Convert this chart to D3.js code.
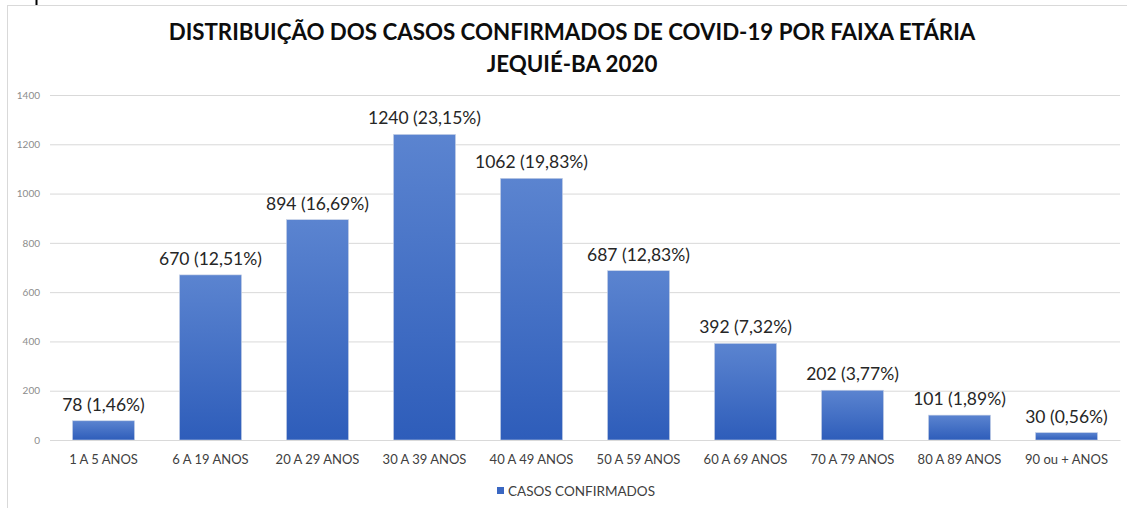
<!DOCTYPE html>
<html>
<head>
    <meta charset="utf-8">
    <script src="https://d3js.org/d3.v7.min.js"></script>
    <style>
        body { margin: 0; background: #fff; overflow: hidden; }
        svg text { font-family: Lato, "Open Sans", sans-serif; }
    </style>
</head>
<body>
    <div id="chart"></div>
    <script>
        var categories = ["1 A 5 ANOS", "6 A 19 ANOS", "20 A 29 ANOS", "30 A 39 ANOS", "40 A 49 ANOS",
            "50 A 59 ANOS", "60 A 69 ANOS", "70 A 79 ANOS", "80 A 89 ANOS", "90 ou + ANOS"];
        var cases = [78, 670, 894, 1240, 1062, 687, 392, 202, 101, 30];
        var percents = ["1,46%", "12,51%", "16,69%", "23,15%", "19,83%", "12,83%", "7,32%", "3,77%", "1,89%", "0,56%"];
        var yTicks = [0, 200, 400, 600, 800, 1000, 1200, 1400];
        var titleLines = ["DISTRIBUIÇÃO DOS CASOS CONFIRMADOS DE COVID-19 POR FAIXA ETÁRIA", "JEQUIÉ-BA 2020"];
        var seriesName = "CASOS CONFIRMADOS";

        var width = 1127, height = 508;
        var margin = { top: 95, right: 7, bottom: 68, left: 50 };

        var svg = d3.select("#chart").append("svg")
            .attr("width", width).attr("height", height);

        // gradient for the bars
        var grad = svg.append("defs").append("linearGradient")
            .attr("id", "barGrad").attr("x1", 0).attr("y1", 0).attr("x2", 0).attr("y2", 1);
        grad.append("stop").attr("offset", "0%").attr("stop-color", "#5b84d0");
        grad.append("stop").attr("offset", "100%").attr("stop-color", "#2e5dba");

        // chart frame
        svg.append("rect")
            .attr("x", 7.5).attr("y", 5.5).attr("width", width - 6).attr("height", height)
            .attr("fill", "none").attr("stroke", "#d9d9d9");

        // small cut off bit at the very top
        svg.append("line").attr("x1", 36.5).attr("x2", 36.5).attr("y1", 0).attr("y2", 5)
            .attr("stroke", "#000").attr("stroke-width", 2);

        var x = d3.scaleBand()
            .domain(categories)
            .range([margin.left, width - margin.right])
            .paddingInner(0.42)
            .paddingOuter(0.21);

        var y = d3.scaleLinear()
            .domain([0, 1400])
            .range([height - margin.bottom, margin.top]);

        // gridlines + y labels
        var yAxis = svg.append("g")
            .attr("transform", `translate(${margin.left},0)`)
            .call(d3.axisLeft(y).tickValues(yTicks).tickFormat(d3.format("d"))
                .tickSize(-(width - margin.right - margin.left)).tickPadding(10));
        yAxis.select(".domain").remove();
        yAxis.selectAll(".tick line").attr("stroke", "#d9d9d9");
        yAxis.selectAll(".tick text")
            .attr("fill", "#8c8c8c").style("font-size", "10px");

        // bars
        svg.append("g").selectAll("rect")
            .data(cases)
            .join("rect")
            .attr("x", (d, i) => x(categories[i]))
            .attr("y", d => y(d))
            .attr("width", x.bandwidth())
            .attr("height", d => y(0) - y(d))
            .attr("fill", "url(#barGrad)")
            .attr("stroke", "#c9d3e6").attr("stroke-width", 0.6);

        // value labels
        svg.append("g").selectAll("text")
            .data(cases)
            .join("text")
            .attr("x", (d, i) => x(categories[i]) + x.bandwidth() / 2)
            .attr("y", d => y(d) - 10)
            .attr("text-anchor", "middle")
            .attr("fill", "#262626")
            .style("font-size", "17.5px")
            .text((d, i) => `${d} (${percents[i]})`);

        // x axis labels
        var xAxis = svg.append("g")
            .attr("transform", `translate(0,${y(0)})`)
            .call(d3.axisBottom(x).tickSize(0).tickPadding(15));
        xAxis.select(".domain").attr("stroke", "#d9d9d9");
        xAxis.selectAll(".tick text")
            .attr("fill", "#404040").style("font-size", "13px");

        // title
        svg.append("g").selectAll("text")
            .data(titleLines)
            .join("text")
            .attr("x", 572)
            .attr("y", (d, i) => 40 + i * 32)
            .attr("text-anchor", "middle")
            .attr("fill", "#0d0d0d")
            .style("font-size", "22.3px")
            .style("font-weight", "bold")
            .text(d => d);

        // legend
        var legend = svg.append("g").attr("transform", "translate(497,491)");
        legend.append("rect").attr("x", 0).attr("y", -4).attr("width", 7).attr("height", 7).attr("fill", "#3a67c2");
        legend.append("text").attr("x", 11).attr("y", 4.5)
            .attr("fill", "#404040").style("font-size", "13.5px")
            .text(seriesName);
    </script>
</body>
</html>
